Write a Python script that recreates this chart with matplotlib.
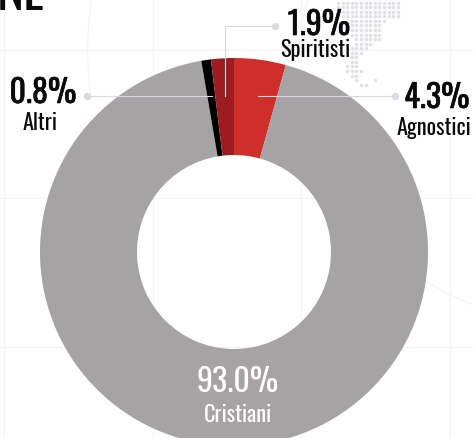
import matplotlib
matplotlib.use("Agg")
import matplotlib.pyplot as plt
import matplotlib.patheffects as pe

plt.rcParams['font.family'] = ['Oswald', 'DejaVu Sans']

labels = ["Agnostici", "Cristiani", "Altri", "Spiritisti"]
values = [4.3, 93.0, 0.8, 1.9]
colors = ["#cf2e2a", "#a5a3a4", "#000000", "#9c1c1f"]
value_text = ["4.3%", "93.0%", "0.8%", "1.9%"]

# faint map grid behind the chart
grid_x = [3.5, 152.5, 300.5, 449.5]
grid_y = [49.5, 197.5, 346.5]
arc_left_x = [91, 88.5, 87.5, 88.5, 91]
arc_left_y = [0, 25, 50, 75, 100]
arc_right_x = [427, 450, 473]
arc_right_y = [282, 295, 305]
arc_top_x = [308, 304, 301]
arc_top_y = [0, 12, 30]

# dotted map: first and last column for every row
dot_first = [0, 0, 0, 1, 3, 3, 3, 3, 4, 4, 3, 3, 3, 3, 2, 2, 3, 4, 5]
dot_last = [13, 13, 13, 13, 10, 9, 9, 9, 9, 7, 6, 5, 4, 4, 4, 5, 4, 4, 6]
dot_extra_row = 17
dot_extra_col = 8

H = 438

fig = plt.figure(figsize=(4.73, 4.38), dpi=100)
ax = fig.add_axes([0, 0, 1, 1])

faint = "#f5f5f7"
for x in grid_x:
    ax.axvline(x, color=faint, lw=0.9, zorder=0)
for y in grid_y:
    ax.axhline(H - y, color=faint, lw=0.9, zorder=0)
for xs, ys in [(arc_left_x, arc_left_y), (arc_right_x, arc_right_y), (arc_top_x, arc_top_y)]:
    ax.plot(xs, [H - y for y in ys], color=faint, lw=0.9, zorder=0)

# map dots
dot_x = []
dot_y = []
for row, (first, last) in enumerate(zip(dot_first, dot_last)):
    for col in range(first, last + 1):
        dot_x.append(338 + 4.6 * col)
        dot_y.append(H - (2.7 + 4.55 * row))
dot_x.append(338 + 4.6 * dot_extra_col)
dot_y.append(H - (2.7 + 4.55 * dot_extra_row))
ax.scatter(dot_x, dot_y, s=6.5, color="#e0e0e6", linewidths=0, zorder=1)

ax.pie(values, colors=colors, startangle=90, counterclock=False, center=(234, H - 252),
       radius=194, wedgeprops=dict(width=97), frame=True)

ax.set_xlim(0, 473)
ax.set_ylim(0, 438)
ax.axis("off")

line_col = "#d9d9e1"

# leader lines
ax.plot([258, 395], [H - 96, H - 96], color=line_col, lw=0.8, zorder=5)
ax.plot([395], [H - 96], "o", color=line_col, ms=5.3, mew=0, zorder=5)
ax.plot([225, 225, 275], [H - 96, H - 26, H - 26], color=line_col, lw=0.8, zorder=5)
ax.plot([275], [H - 26], "o", color=line_col, ms=5.3, mew=0, zorder=5)
ax.plot([87, 212], [H - 96, H - 96], color=line_col, lw=0.8, zorder=5)
ax.plot([87], [H - 96], "o", color=line_col, ms=5.3, mew=0, zorder=5)


def thick(col, w):
    return [pe.withStroke(linewidth=w, foreground=col)]


black = "#0a0a0a"

# title remnant at the top
ax.text(-3, H - 10.5, "NE", fontsize=37, weight="bold", color=black, va="baseline", ha="left")

# labels
ax.text(43, H - 103, value_text[2], fontsize=23, color=black, ha="center", va="baseline",
        path_effects=thick(black, 0.4))
ax.text(40, H - 130, labels[2], fontsize=16, color=black, ha="center", va="baseline")
ax.text(319, H - 35, value_text[3], fontsize=23, color=black, ha="center", va="baseline",
        path_effects=thick(black, 0.4))
ax.text(315.5, H - 57, labels[3], fontsize=16, color=black, ha="center", va="baseline")
ax.text(437, H - 108, value_text[0], fontsize=23, color=black, ha="center", va="baseline",
        path_effects=thick(black, 0.4))
ax.text(434, H - 135, labels[0], fontsize=16, color=black, ha="center", va="baseline")
ax.text(237.5, H - 392, value_text[1], fontsize=23, color="white", ha="center", va="baseline")
ax.text(238, H - 422, labels[1], fontsize=16, color="white", ha="center", va="baseline")

fig.savefig("out.png", dpi=100)
